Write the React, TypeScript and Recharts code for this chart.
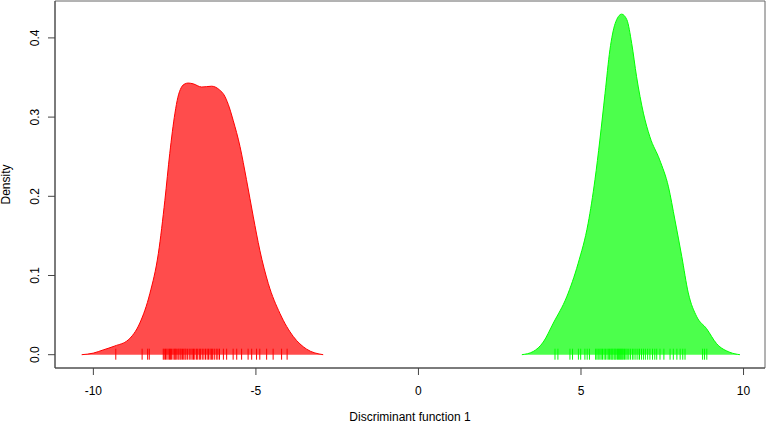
import React from 'react';
import { ComposedChart, Area, Scatter, XAxis, YAxis, ReferenceArea } from 'recharts';

// density curve of group 1 (red)
const redX = [-10.36, -10.0, -9.70, -9.34, -8.93, -8.57, -8.26, -8.00, -7.80, -7.65, -7.49, -7.40, -7.30, -7.18, -7.08, -6.93, -6.67, -6.36, -6.11, -5.98, -5.85, -5.70, -5.49, -5.29, -5.08, -4.88, -4.62, -4.26, -3.85, -3.44, -2.93];
const redY = [0, 0.002, 0.006, 0.011, 0.0186, 0.040, 0.0775, 0.128, 0.195, 0.254, 0.305, 0.325, 0.337, 0.342, 0.343, 0.342, 0.338, 0.339, 0.334, 0.328, 0.316, 0.296, 0.263, 0.221, 0.174, 0.132, 0.090, 0.052, 0.023, 0.007, 0];

// density curve of group 2 (green)
const greenX = [3.18, 3.53, 3.84, 4.15, 4.56, 4.91, 5.22, 5.43, 5.58, 5.74, 5.89, 6.05, 6.25, 6.41, 6.56, 6.71, 6.92, 7.12, 7.42, 7.69, 7.89, 8.10, 8.30, 8.56, 8.86, 9.17, 9.58, 9.89];
const greenY = [0, 0.004, 0.016, 0.040, 0.073, 0.115, 0.166, 0.221, 0.271, 0.330, 0.385, 0.418, 0.430, 0.423, 0.393, 0.351, 0.305, 0.275, 0.246, 0.212, 0.170, 0.124, 0.078, 0.048, 0.033, 0.014, 0.003, 0];

// rug of observed scores
const redRug = [-9.31, -8.50, -8.33, -8.28, -7.85, -7.82, -7.78, -7.74, -7.70, -7.66, -7.63, -7.60, -7.55, -7.51, -7.48, -7.45, -7.40, -7.37, -7.33, -7.30, -7.26, -7.22, -7.18, -7.15, -7.10, -7.05, -7.00, -6.96, -6.92, -6.88, -6.83, -6.79, -6.74, -6.70, -6.65, -6.60, -6.55, -6.50, -6.46, -6.41, -6.37, -6.33, -6.28, -6.22, -6.17, -6.12, -6.00, -5.90, -5.70, -5.59, -5.44, -5.24, -5.13, -4.98, -4.88, -4.67, -4.47, -4.21, -4.04];
const greenRug = [4.20, 4.29, 4.66, 4.74, 4.92, 4.99, 5.12, 5.19, 5.26, 5.45, 5.49, 5.53, 5.58, 5.62, 5.66, 5.71, 5.75, 5.80, 5.84, 5.88, 5.92, 5.95, 5.98, 6.02, 6.05, 6.08, 6.12, 6.15, 6.18, 6.21, 6.24, 6.27, 6.30, 6.34, 6.38, 6.42, 6.47, 6.52, 6.58, 6.63, 6.69, 6.75, 6.80, 6.86, 6.92, 6.98, 7.05, 7.12, 7.20, 7.27, 7.33, 7.43, 7.55, 7.74, 7.84, 7.95, 8.05, 8.13, 8.20, 8.74, 8.80, 8.87];

const xTicks = [-10, -5, 0, 5, 10];
const yTicks = [0, 0.1, 0.2, 0.3, 0.4];
const xDomain: [number, number] = [-11.18, 10.66];
const yDomain: [number, number] = [-0.0168, 0.4466];

const font = '"Liberation Sans", Arial, sans-serif';

const data = [
  ...redX.map((x, i) => ({ x, red: redY[i] })),
  ...greenX.map((x, i) => ({ x, green: greenY[i] })),
];
const redRugData = redRug.map(x => ({ x, rug: 0 }));
const greenRugData = greenRug.map(x => ({ x, rug: 0 }));

const rugShape = (color: string) => (p: any) => (
  <line x1={p.cx} x2={p.cx} y1={p.cy - 6} y2={p.cy + 5} stroke={color} strokeWidth={1} />
);

const YTick = (props: any) => {
  const { x, y, payload } = props;
  return (
    <text x={x} y={y} transform={`rotate(-90 ${x} ${y})`} textAnchor="middle"
      fontSize={12} fontFamily={font} fill="#000">
      {payload.value.toFixed(1)}
    </text>
  );
};

const App = () => (
  <div style={{ position: 'absolute', left: 0, top: 0, background: '#fff' }}>
    <ComposedChart width={767} height={423} data={data} margin={{ top: 1, right: 2, left: 0, bottom: 0 }}>
      <XAxis
        type="number"
        dataKey="x"
        domain={xDomain}
        ticks={xTicks}
        allowDataOverflow
        height={55}
        tickSize={7}
        tickMargin={11}
        stroke="#444"
        tick={{ fontSize: 12, fontFamily: font, fill: '#000' }}
        label={{ value: 'Discriminant function 1', position: 'insideBottom', offset: 2, fontSize: 12, fontFamily: font, fill: '#000' }}
      />
      <YAxis
        type="number"
        domain={yDomain}
        ticks={yTicks}
        allowDataOverflow
        width={55}
        tickSize={7}
        tickMargin={9}
        stroke="#444"
        tick={<YTick />}
        label={{
          content: (p: any) => {
            const vb = p.viewBox;
            const cy = vb.y + vb.height / 2;
            return (
              <text x={10} y={cy} transform={`rotate(-90 10 ${cy})`} textAnchor="middle"
                fontSize={12} fontFamily={font} fill="#000">Density</text>
            );
          },
        }}
      />
      <ReferenceArea x1={xDomain[0]} x2={xDomain[1]} y1={yDomain[0]} y2={yDomain[1]}
        fill="none" stroke="#666" strokeWidth={1} ifOverflow="visible" />
      <Area type="monotone" dataKey="red" baseValue={0} stroke="#ff0000" strokeWidth={1}
        fill="#ff0000" fillOpacity={0.7} isAnimationActive={false} dot={false} activeDot={false} />
      <Area type="monotone" dataKey="green" baseValue={0} stroke="#00ff00" strokeWidth={1}
        fill="#00ff00" fillOpacity={0.7} isAnimationActive={false} dot={false} activeDot={false} />
      <Scatter data={redRugData} dataKey="rug" shape={rugShape('#ff0000')} isAnimationActive={false} />
      <Scatter data={greenRugData} dataKey="rug" shape={rugShape('#00ff00')} isAnimationActive={false} />
    </ComposedChart>
  </div>
);

export default App;
